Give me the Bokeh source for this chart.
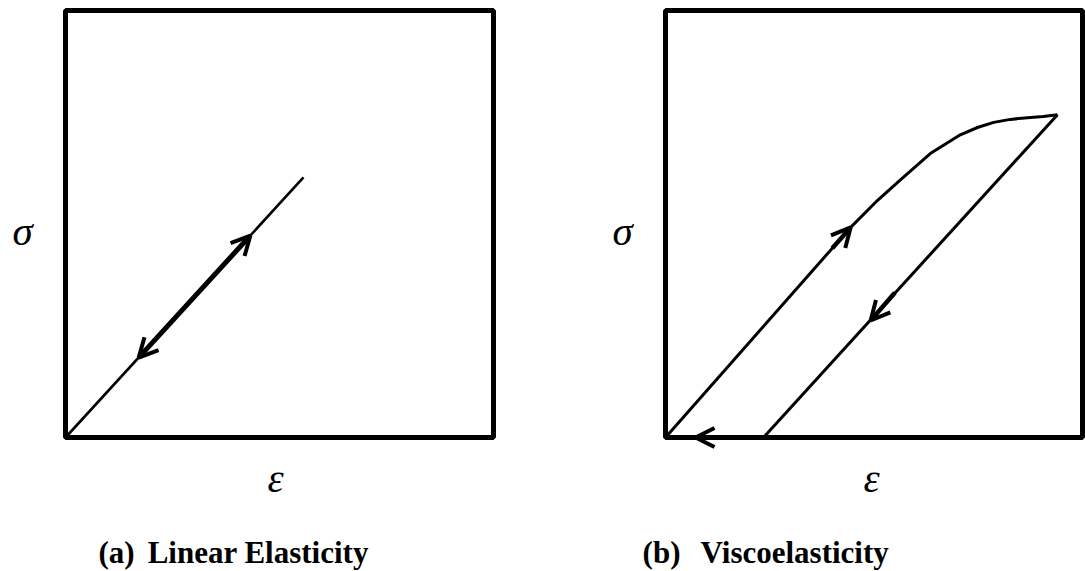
from bokeh.plotting import figure
from bokeh.models import Range1d, Label, Arrow, OpenHead
from bokeh.layouts import row
from bokeh.embed import file_html
from bokeh.resources import INLINE

# ---- data (normalised strain / stress inside each panel box, box = [0,1] x [0,1]) ----
elastic_strain = [0.0, 0.556]
elastic_stress = [0.0, 0.609]
elastic_arrow_up = (0.432, 0.473)
elastic_arrow_down = (0.171, 0.187)

load_strain = [0.0, 0.444, 0.508, 0.564, 0.635, 0.707, 0.748, 0.787, 0.827, 0.868, 0.906, 0.940]
load_stress = [0.0, 0.492, 0.555, 0.604, 0.665, 0.709, 0.726, 0.738, 0.745, 0.749, 0.752, 0.756]
unload_strain = [0.940, 0.235]
unload_stress = [0.756, 0.0]
load_arrow = [(0.400, 0.443), (0.444, 0.492)]
unload_arrow = [(0.550, 0.339), (0.492, 0.274)]
recover_arrow = [(0.168, 0.0), (0.072, 0.0)]

x_label = "ε"
y_label = "σ"
captions = [("(a)", "Linear Elasticity"), ("(b)", "Viscoelasticity")]

SERIF = "Liberation Serif"
H = 571


def make_panel(width, box_left_px, box_w_px):
    # the frame covers the whole canvas; the unit box sits where the reference draws it
    box_top_px, box_bottom_px = 10, 437
    box_h_px = box_bottom_px - box_top_px
    xr = Range1d(-box_left_px / box_w_px, (width - box_left_px) / box_w_px)
    yr = Range1d(-(H - box_bottom_px) / box_h_px, 1 + box_top_px / box_h_px)
    p = figure(width=width, height=H, output_backend="svg", toolbar_location=None,
               x_range=xr, y_range=yr, x_axis_location=None, y_axis_location=None,
               title=None, min_border=0)
    p.grid.visible = False
    p.outline_line_color = None
    p.background_fill_color = "white"
    p.border_fill_color = "white"
    p.quad(left=[0], right=[1], bottom=[0], top=[1], fill_color=None,
           line_color="black", line_width=5)
    return p


def add_texts(p, sx, ex, cx_tag, cx_text, tag, text):
    p.add_layout(Label(x=sx, y=0.484, text=y_label, text_font=SERIF, text_font_style="italic",
                       text_font_size="41px", text_align="center", text_baseline="alphabetic",
                       text_color="black"))
    p.add_layout(Label(x=ex, y=-0.094, text=x_label, text_font=SERIF, text_font_style="italic",
                       text_font_size="41px", text_align="center", text_baseline="alphabetic",
                       text_color="black"))
    p.add_layout(Label(x=cx_tag, y=-0.270, text=tag, text_font=SERIF, text_font_style="bold",
                       text_font_size="31px", text_align="left", text_baseline="alphabetic",
                       text_color="black"))
    p.add_layout(Label(x=cx_text, y=-0.270, text=text, text_font=SERIF, text_font_style="bold",
                       text_font_size="31px", text_align="left", text_baseline="alphabetic",
                       text_color="black"))


def head():
    return OpenHead(size=19, line_width=4, line_color="black")


# ---- panel (a) ----
p1 = make_panel(560, 65, 428)
p1.line(elastic_strain, elastic_stress, line_color="black", line_width=2.6)
p1.add_layout(Arrow(x_start=elastic_arrow_down[0], y_start=elastic_arrow_down[1],
                    x_end=elastic_arrow_up[0], y_end=elastic_arrow_up[1],
                    line_width=5, line_color="black", start=head(), end=head()))
add_texts(p1, -0.100, 0.491, 0.077, 0.192, captions[0][0], captions[0][1])

# ---- panel (b) ----
p2 = make_panel(525, 105, 417)
p2.line(load_strain, load_stress, line_color="black", line_width=3, line_join="round")
p2.line(unload_strain, unload_stress, line_color="black", line_width=3)
for (a, b) in [load_arrow, unload_arrow, recover_arrow]:
    p2.add_layout(Arrow(x_start=a[0], y_start=a[1], x_end=b[0], y_end=b[1],
                        line_width=4.5, line_color="black", end=head()))
add_texts(p2, -0.103, 0.494, -0.055, 0.084, captions[1][0], captions[1][1])

layout = row(p1, p2)
open("out.html", "w").write(file_html(layout, INLINE))
